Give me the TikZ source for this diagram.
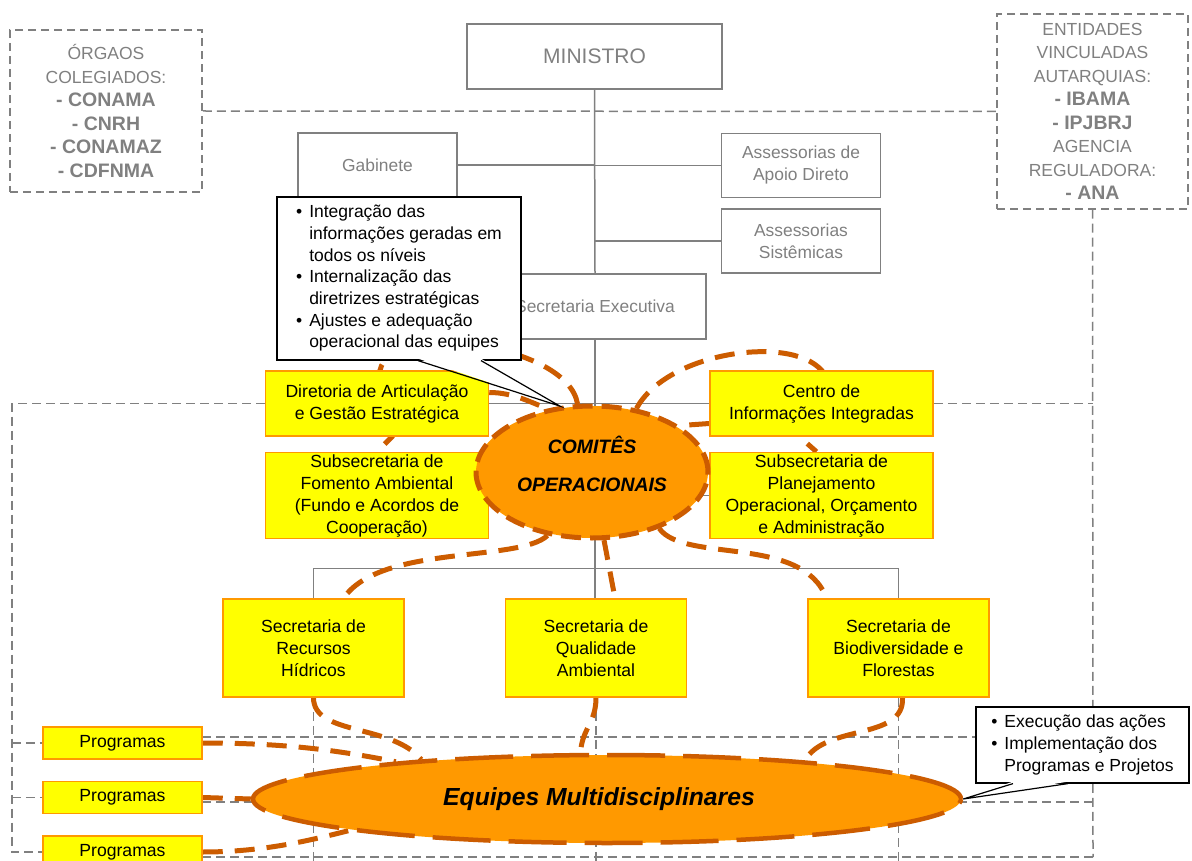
\documentclass[tikz,border=0pt]{standalone}
\usepackage{fontspec}
\setmainfont{Liberation Sans}
\usetikzlibrary{shapes.geometric, positioning}
\definecolor{SoftGray}{RGB}{128,128,128}
\definecolor{UnitYellow}{RGB}{255,255,0}
\definecolor{UnitOrange}{RGB}{255,153,0}
\definecolor{RustOrange}{RGB}{204,92,0}
\pgfdeclarelayer{grade}
\pgfdeclarelayer{elos}
\pgfsetlayers{grade,elos,main}
\newcommand{\destaque}[1]{{\fontsize{19.5}{23.5}\selectfont\bfseries #1}}

\begin{document}
\begin{tikzpicture}[
    x=1pt, y=-1pt,
    orgbox/.style={draw=SoftGray, line width=1.5pt, fill=white, text=SoftGray, align=center, inner sep=0pt, font=\fontsize{17.4}{22}\selectfont},
    linkbox/.style={draw=SoftGray, line width=1.5pt, dash pattern=on 8pt off 5pt, text=SoftGray, align=center, inner sep=0pt, font=\fontsize{17.5}{23.5}\selectfont},
    unit/.style={draw=UnitOrange, line width=1.5pt, fill=UnitYellow, align=center, inner sep=0pt, font=\fontsize{17.6}{22}\selectfont},
    team/.style={ellipse, draw=RustOrange, fill=UnitOrange, line width=5pt, align=center, inner sep=0pt},
    note/.style={draw=black, line width=1.2pt, fill=white, inner sep=0pt, font=\fontsize{17.5}{21.7}\selectfont},
    tie/.style={draw=RustOrange, line width=5pt, dash pattern=on 20pt off 12pt},
    wire/.style={draw=SoftGray, line width=1.5pt},
    gridline/.style={draw=SoftGray, line width=1.5pt, dash pattern=on 9pt off 5pt}
]
    \useasboundingbox (0,0) rectangle (1192,861);

    \node[orgbox, minimum width=255pt, minimum height=65pt, font=\fontsize{21}{24}\selectfont] (ministro) at (594.5,56.5) {MINISTRO};
    \node[orgbox, minimum width=159pt, minimum height=64pt] (gabinete) at (377.5,165) {Gabinete};
    \node[orgbox, minimum width=159pt, minimum height=64pt] (apoio) at (801,165.5) {Assessorias de\\Apoio Direto};
    \node[orgbox, minimum width=159pt, minimum height=64pt, below=10pt of apoio] (sistemicas) {Assessorias\\Sistêmicas};
    \node[orgbox, minimum width=222pt, minimum height=65pt] (secexec) at (595,306.5) {Secretaria Executiva};

    \node[linkbox, minimum width=192pt, minimum height=162pt] (colegiados) at (106,111) {ÓRGAOS\\COLEGIADOS:\\\destaque{- CONAMA}\\\destaque{- CNRH}\\\destaque{- CONAMAZ}\\\destaque{- CDFNMA}};
    \node[linkbox, minimum width=191pt, minimum height=195pt] (vinculadas) at (1092.5,111.5) {ENTIDADES\\VINCULADAS\\AUTARQUIAS:\\\destaque{- IBAMA}\\\destaque{- IPJBRJ}\\AGENCIA\\REGULADORA:\\\destaque{- ANA}};

    \node[unit, minimum width=223pt, minimum height=65pt] (diretoria) at (377,403.5) {Diretoria de Articulação\\e Gestão Estratégica};
    \node[unit, minimum width=223pt, minimum height=86pt, below=15pt of diretoria] (fomento) {Subsecretaria de\\Fomento Ambiental\\(Fundo e Acordos de\\Cooperação)};
    \node[unit, minimum width=223pt, minimum height=65pt, right=220pt of diretoria] (centro) {Centro de\\Informações Integradas};
    \node[unit, minimum width=223pt, minimum height=86pt, below=15pt of centro] (planejamento) {Subsecretaria de\\Planejamento\\Operacional, Orçamento\\e Administração};
    \node[unit, minimum width=181pt, minimum height=98pt] (hidricos) at (313.5,648) {Secretaria de\\Recursos\\Hídricos};
    \node[unit, minimum width=181pt, minimum height=98pt, right=100pt of hidricos] (qualidade) {Secretaria de\\Qualidade\\Ambiental};
    \node[unit, minimum width=181pt, minimum height=98pt, right=120pt of qualidade] (biodiversidade) {Secretaria de\\Biodiversidade e\\Florestas};
    \node[unit, minimum width=159pt, minimum height=32pt] (programasA) at (122.5,743) {Programas};
    \node[unit, minimum width=159pt, minimum height=32pt, below=21pt of programasA] (programasB) {Programas};
    \node[unit, minimum width=159pt, minimum height=32pt, below=21pt of programasB] (programasC) {Programas};

    \node[team, minimum width=232pt, minimum height=132pt, dash pattern=on 20pt off 9pt, text depth=16pt, font=\fontsize{19.4}{38}\selectfont\bfseries\itshape] (comites) at (592,472) {COMITÊS\\OPERACIONAIS};
    \node[team, minimum width=708pt, minimum height=88pt, line width=4.5pt, dash pattern=on 58pt off 18pt, font=\fontsize{24.7}{30}\selectfont\bfseries\itshape] (equipes) at (607,799) {Equipes Multidisciplinares\hspace*{16pt}};

    \begin{pgfonlayer}{grade}
        \draw[wire] (ministro.south) -- (secexec.north);
        \draw[wire] (gabinete.east) -- (gabinete.east -| ministro.south);
        \draw[wire] (apoio.west) -- (apoio.west -| ministro.south);
        \draw[wire] (sistemicas.west) -- (sistemicas.west -| ministro.south);
        \draw[wire] (secexec.south) -- (secexec.south |- qualidade.north);
        \draw[wire] (diretoria.east) -- (centro.west);
        \draw[wire] (fomento.east) -- (planejamento.west);
        \draw[wire] (hidricos.north) -- ++(0,-30) -| (biodiversidade.north);

        \coordinate (cantoDir) at (1093,857);
        \coordinate (linhaA) at (202,737);
        \coordinate (linhaB) at (202,802);
        \coordinate (linhaC) at (202,857);
        \coordinate (rodape) at (0,861);
        \draw[gridline] (colegiados.east) -- (vinculadas.west);
        \draw[gridline] (vinculadas.south) -- (cantoDir);
        \draw[gridline] (centro.east) -- (centro.east -| vinculadas.south);
        \draw[gridline] (diretoria.west) -- ++(-253,0) coordinate (cantoEsq) -- (cantoEsq |- programasC.west) -- (programasC.west);
        \draw[gridline] (cantoEsq |- programasA.west) -- (programasA.west);
        \draw[gridline] (cantoEsq |- programasB.west) -- (programasB.west);
        \draw[gridline] (linhaA) -- (linhaA -| cantoDir);
        \draw[gridline] (linhaB) -- (linhaB -| cantoDir);
        \draw[gridline] (linhaC) -- (cantoDir);
        \draw[gridline] (hidricos.south) -- (hidricos.south |- rodape);
        \draw[gridline] (qualidade.south) -- (qualidade.south |- rodape);
        \draw[gridline] (biodiversidade.south) -- (biodiversidade.south |- rodape);
    \end{pgfonlayer}

    \begin{pgfonlayer}{elos}
        \draw[tie] (comites.102) .. controls +(-10,-61) and +(10,-49) .. ([xshift=3pt]diretoria.north) -- ([xshift=15pt]diretoria.south) -- (fomento.north);
        \draw[tie] ([yshift=11pt]diretoria.east) .. controls +(25,0) and +(-15,-5) .. (comites.125);
        \draw[tie] (comites.55) .. controls +(30,-56) and +(-32,-36) .. (centro.north) -- ([xshift=-22pt]centro.south) -- ([xshift=-5pt]planejamento.north);
        \draw[tie] ([yshift=-20pt]centro.west) -- (comites.28);
        \draw[tie] (comites.235) .. controls +(-29,27) and +(37,-54) .. ([xshift=30pt]hidricos.north);
        \draw[tie] (hidricos.south) .. controls +(0,38) and +(-30,-36) .. (equipes.168);
        \draw[tie] (comites.280) -- ([xshift=19pt]qualidade.north);
        \draw[tie] (qualidade.south) .. controls +(0,25) and +(2,-25) .. (equipes.120);
        \draw[tie] (comites.320) .. controls +(25,35) and +(-24,-64) .. ([xshift=-72pt]biodiversidade.north);
        \draw[tie] ([xshift=4pt]biodiversidade.south) .. controls +(2,43) and +(21,-37) .. (equipes.11);
        \draw[tie] (programasA.east) .. controls +(80,0) and +(-60,-12) .. (equipes.170);
        \draw[tie] (programasB.east) -- (equipes.west);
        \draw[tie] (programasC.east) .. controls +(60,0) and +(-40,10) .. (equipes.187);
    \end{pgfonlayer}

    \node[note, minimum width=244pt, minimum height=163pt] (notaComites) at (399,278.5) {\begin{tabular}{@{}l@{\hspace{7pt}}l@{}}
        \textbullet & Integração das\\
         & informações geradas em\\
         & todos os níveis\\
        \textbullet & Internalização das\\
         & diretrizes estratégicas\\
        \textbullet & Ajustes e adequação\\
         & operacional das equipes
    \end{tabular}};
    \fill[white] ([xshift=19pt, yshift=2pt]notaComites.south) -- (comites.116) -- ([xshift=82pt, yshift=2pt]notaComites.south) -- cycle;
    \draw[line width=1.2pt] ([xshift=19pt]notaComites.south) -- (comites.116) -- ([xshift=82pt]notaComites.south);

    \node[note, minimum width=213pt, minimum height=76pt] (notaEquipes) at (1082.5,745) {\begin{tabular}{@{}l@{\hspace{7pt}}l@{}}
        \textbullet & Execução das ações\\
        \textbullet & Implementação dos\\
         & Programas e Projetos
    \end{tabular}};
    \fill[white] ([xshift=-69.5pt, yshift=2pt]notaEquipes.south) -- (equipes.east) -- ([xshift=-14.5pt, yshift=2pt]notaEquipes.south) -- cycle;
    \draw[line width=1.2pt] ([xshift=-69.5pt]notaEquipes.south) -- (equipes.east) -- ([xshift=-14.5pt]notaEquipes.south);
\end{tikzpicture}
\end{document}
